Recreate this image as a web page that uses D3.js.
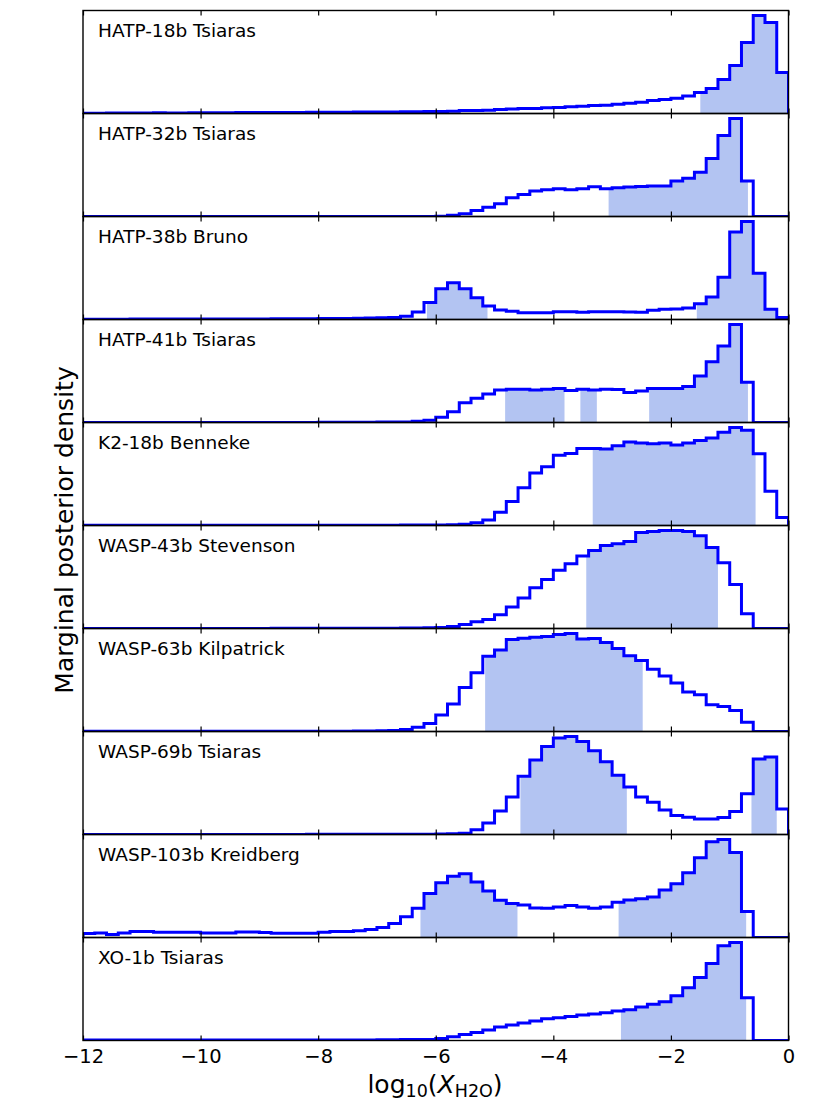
<!DOCTYPE html>
<html>
<head>
<meta charset="utf-8">
<script src="https://cdn.jsdelivr.net/npm/d3@7"></script>
<style>
  html, body { margin: 0; padding: 0; background: #fff; }
  svg { display: block; }
  text { font-family: "DejaVu Sans", sans-serif; fill: #000; }
</style>
</head>
<body>
<svg id="chart" width="830" height="1107"></svg>
<script>
// ---------------- DATA ----------------
// 60 bins of width 0.2 in log10(X_H2O) from -12 to 0; values = relative posterior density
const binEdges = d3.range(61).map(i => +(-12 + i * 0.2).toFixed(1));
const xTicks = [-12, -10, -8, -6, -4, -2, 0];

const panelLabels = ["HATP-18b Tsiaras", "HATP-32b Tsiaras", "HATP-38b Bruno", "HATP-41b Tsiaras",
  "K2-18b Benneke", "WASP-43b Stevenson", "WASP-63b Kilpatrick", "WASP-69b Tsiaras",
  "WASP-103b Kreidberg", "XO-1b Tsiaras"];

const hatp18b = [0.3,0.3,0.4,0.4,0.5, 0.5,0.8,0.6,0.6,0.7, 0.7,0.8,0.8,0.9,0.9, 1.0,1.0,1.1,1.1,1.2,
  1.2,1.3,1.3,1.4,1.4, 1.5,1.6,1.7,1.8,1.9, 2.0,2.3,3.0,3.0,3.3, 4.0,4.5,5.0,5.0,5.7,
  6.0,6.7,7.3,8.0,8.3, 9.3,10.3,11.3,13.0,14.0, 15.3,17.5,21.0,25.0,34.0, 48.0,71.0,98.0,91.0,41.0];
const hatp32b = [0,0,0,0,0, 0,0,0,0,0, 0,0,0,0,0, 0,0,0,0,0,
  0,0,0,0,0, 0,0,0,0.1,0.1, 0.3,1.3,2.7,6.0,9.3, 12.7,18.7,22.0,25.3,26.7,
  27.7,26.7,27.7,29.7,27.7, 28.7,29.3,30.0,30.3,30.3, 35.3,38.0,44.0,57.7,80.7, 97.7,35.3,0,0,0];
const hatp38b = [0.3,0.3,0.3,0.3,0.4, 0.4,0.4,0.4,0.4,0.5, 0.5,0.5,0.5,0.6,0.6, 0.6,0.7,0.7,0.8,0.8,
  0.9,1.0,1.0,1.2,1.4, 1.6,2.0,3.3,7.3,16.7, 30.0,36.0,30.0,21.3,13.3, 9.3,8.0,6.7,6.7,6.7,
  7.7,7.7,7.0,7.7,7.7, 7.7,7.3,7.0,9.0,10.0, 10.3,11.3,15.3,22.0,41.3, 85.7,96.0,45.3,10.0,2.0];
const hatp41b = [0.1,0.1,0.1,0.1,0.1, 0.1,0.1,0.1,0.1,0.1, 0.1,0.1,0.1,0.1,0.1, 0.1,0.1,0.1,0.1,0.1,
  0.2,0.2,0.3,0.3,0.3, 0.4,0.5,0.6,1.3,2.3, 5.3,10.7,19.7,24.0,28.3, 32.3,33.0,33.0,32.3,33.0,
  33.7,31.7,33.0,32.3,33.0, 32.7,29.7,31.3,33.7,33.7, 33.7,35.7,46.0,60.3,76.0, 97.3,40.0,0,0,0];
const k218b = [0.2,0.2,0.2,0.2,0.2, 0.2,0.2,0.2,0.2,0.2, 0.2,0.2,0.2,0.2,0.2, 0.2,0.2,0.2,0.2,0.2,
  0.2,0.2,0.3,0.3,0.3, 0.3,0.3,0.4,0.4,0.4, 0.4,0.7,1.3,2.7,5.3, 13.0,23.7,37.3,51.7,58.0,
  69.3,71.0,76.0,76.0,75.3, 78.7,82.3,81.3,80.7,81.3, 79.3,81.3,83.7,86.3,92.0, 96.7,94.0,70.7,33.7,8.0];
const wasp43b = [0.1,0.1,0.1,0.1,0.1, 0.1,0.1,0.1,0.1,0.1, 0.1,0.1,0.1,0.1,0.1, 0.1,0.2,0.2,0.2,0.2,
  0.2,0.2,0.2,0.2,0.2, 0.2,0.3,0.4,0.5,0.7, 1.0,2.0,4.0,6.7,9.0, 13.7,21.3,30.3,40.3,48.7,
  57.7,64.3,72.0,77.3,82.3, 84.0,86.3,95.3,96.3,97.3, 97.3,96.3,92.0,80.3,65.3, 43.7,14.7,0,0,0];
const wasp63b = [0.2,0.2,0.2,0.2,0.2, 0.2,0.2,0.2,0.2,0.2, 0.2,0.2,0.2,0.2,0.2, 0.2,0.2,0.2,0.3,0.3,
  0.3,0.3,0.3,0.4,0.5, 0.7,1.0,2.0,4.3,8.0, 16.3,27.0,43.3,58.0,74.3, 80.3,90.7,92.0,93.0,93.7,
  95.7,96.7,91.3,91.7,87.7, 81.7,74.7,70.0,61.3,54.7, 47.7,39.0,36.3,26.3,24.7, 20.7,9.0,0,0,0];
const wasp69b = [0.1,0.1,0.1,0.1,0.1, 0.1,0.1,0.1,0.1,0.1, 0.1,0.1,0.1,0.1,0.1, 0.1,0.1,0.1,0.1,0.2,
  0.2,0.2,0.2,0.2,0.2, 0.2,0.2,0.2,0.3,0.3, 0.4,0.7,1.3,4.7,11.3, 23.3,37.0,57.7,73.7,87.0,
  95.3,97.0,92.0,82.7,72.0, 58.7,47.0,37.0,32.0,24.3, 18.7,17.0,15.3,15.3,16.7, 22.7,40.3,74.7,76.7,25.3];
const wasp103b = [4.0,4.7,3.0,4.7,6.0, 6.0,5.4,5.4,5.4,5.4, 4.7,4.7,4.7,5.7,5.7, 5.0,4.4,4.4,4.4,4.4,
  5.4,6.1,6.1,6.8,8.1, 10.1,14.2,21.0,29.7,44.6, 55.7,62.2,64.9,56.4,47.3, 37.8,34.5,33.0,30.0,29.7,
  31.0,32.4,31.0,29.7,31.0, 35.8,38.2,39.5,41.2,48.3, 54.7,65.9,81.0,97.3,99.7, 86.5,26.4,0,0,0];
const xo1b = [0.4,0.4,0.4,0.4,0.4, 0.4,0.4,0.4,0.4,0.4, 0.4,0.4,0.4,0.4,0.4, 0.5,0.5,0.5,0.5,0.5,
  0.5,0.5,0.5,0.6,0.6, 0.7,0.8,0.9,1.0,1.0, 2.0,3.7,6.0,8.0,10.4, 13.4,15.4,17.4,19.4,21.7,
  22.7,24.1,25.4,26.4,27.8, 29.4,30.8,33.4,36.1,38.8, 44.8,52.8,62.9,76.9,94.6, 98.0,42.8,0,0,0];

// shaded credible regions [from, to] in log10(X_H2O)
const hatp18bHPD = [[-1.50, 0]];
const hatp32bHPD = [[-3.06, -0.69]];
const hatp38bHPD = [[-6.15, -5.12], [-1.56, -0.23]];
const hatp41bHPD = [[-4.82, -3.81], [-3.54, -3.26], [-2.37, -0.69]];
const k218bHPD = [[-3.33, -0.56]];
const wasp43bHPD = [[-3.44, -1.20]];
const wasp63bHPD = [[-5.16, -2.48]];
const wasp69bHPD = [[-4.56, -2.75], [-0.63, -0.20]];
const wasp103bHPD = [[-6.26, -4.61], [-2.89, -0.72]];
const xo1bHPD = [[-2.85, -0.72]];

const seriesValues = [hatp18b, hatp32b, hatp38b, hatp41b, k218b, wasp43b, wasp63b, wasp69b, wasp103b, xo1b];
const seriesHPD = [hatp18bHPD, hatp32bHPD, hatp38bHPD, hatp41bHPD, k218bHPD, wasp43bHPD, wasp63bHPD, wasp69bHPD, wasp103bHPD, xo1bHPD];

// ---------------- LAYOUT ----------------
const mL = 83, mR = 788.5, mT = 10.5, panelH = 103;
const nP = panelLabels.length;
const bottomAll = mT + nP * panelH;
const lineColor = "#0000ff";
const fillColor = "#b3c4f2";

const svg = d3.select("#chart");
const x = d3.scaleLinear().domain([-12, 0]).range([mL, mR]);

function binIndex(v) {
  return Math.max(0, Math.min(59, Math.floor((v + 12) / 0.2 + 1e-9)));
}

seriesValues.forEach((vals, p) => {
  const y0 = mT + p * panelH, y1 = y0 + panelH;
  const ymax = d3.max(vals) * 1.05;
  const y = d3.scaleLinear().domain([0, ymax]).range([y1, y0]);
  const g = svg.append("g");

  const clipId = "clip" + p;
  svg.append("clipPath").attr("id", clipId)
    .append("rect").attr("x", mL).attr("y", y0).attr("width", mR - mL).attr("height", panelH);

  const plot = g.append("g").attr("clip-path", `url(#${clipId})`);

  // shaded regions
  seriesHPD[p].forEach(([a, b]) => {
    const pts = [[a, vals[binIndex(a)]]];
    binEdges.forEach(e => { if (e > a + 1e-9 && e < b - 1e-9) pts.push([e, vals[binIndex(e)]]); });
    pts.push([b, vals[binIndex(b - 1e-6)]]);
    const area = d3.area().curve(d3.curveStepAfter)
      .x(d => x(d[0])).y0(y(0)).y1(d => y(d[1]));
    plot.append("path").attr("d", area(pts)).attr("fill", fillColor).attr("stroke", "none");
  });

  // step histogram outline
  const pts = [[binEdges[0], 0]];
  vals.forEach((v, i) => { pts.push([binEdges[i], v]); pts.push([binEdges[i + 1], v]); });
  pts.push([binEdges[60], 0]);
  const line = d3.line().x(d => x(d[0])).y(d => y(d[1]));
  plot.append("path").attr("d", line(pts)).attr("fill", "none")
    .attr("stroke", lineColor).attr("stroke-width", 3).attr("stroke-linejoin", "miter");

  // ticks (inward, top & bottom)
  const axB = g.append("g").attr("transform", `translate(0,${y1})`)
    .call(d3.axisBottom(x).tickValues(xTicks).tickSize(-5).tickPadding(8.5)
      .tickFormat(p === nP - 1 ? d3.format("d") : () => ""));
  const axT = g.append("g").attr("transform", `translate(0,${y0})`)
    .call(d3.axisTop(x).tickValues(xTicks).tickSize(-5).tickFormat(() => ""));
  [axB, axT].forEach(a => {
    a.select(".domain").remove();
    a.selectAll(".tick line").attr("stroke", "#000").attr("stroke-width", 1.2);
    a.selectAll("text").style("font-family", "DejaVu Sans").style("font-size", "19.5px").attr("fill", "#000");
  });

  // frame
  g.append("rect").attr("x", mL).attr("y", y0).attr("width", mR - mL).attr("height", panelH)
    .attr("fill", "none").attr("stroke", "#000").attr("stroke-width", 1.4);

  // label
  g.append("text").attr("x", 98).attr("y", y0 + 26.8)
    .style("font-size", "18.5px").text(panelLabels[p]);
});

// x-axis label: log10(X_H2O)
const xl = svg.append("text").attr("x", 435).attr("y", bottomAll + 52.5)
  .attr("text-anchor", "middle").style("font-size", "25px");
xl.append("tspan").text("log");
xl.append("tspan").attr("dy", 4).style("font-size", "17.5px").text("10");
xl.append("tspan").attr("dy", -4).text("(");
xl.append("tspan").style("font-style", "italic").text("X");
xl.append("tspan").attr("dy", 4).style("font-size", "17.5px").text("H2O");
xl.append("tspan").attr("dy", -4).text(")");

// y-axis label
svg.append("text")
  .attr("transform", `translate(73,${530}) rotate(-90)`)
  .attr("text-anchor", "middle").style("font-size", "25px")
  .text("Marginal posterior density");
</script>
</body>
</html>
